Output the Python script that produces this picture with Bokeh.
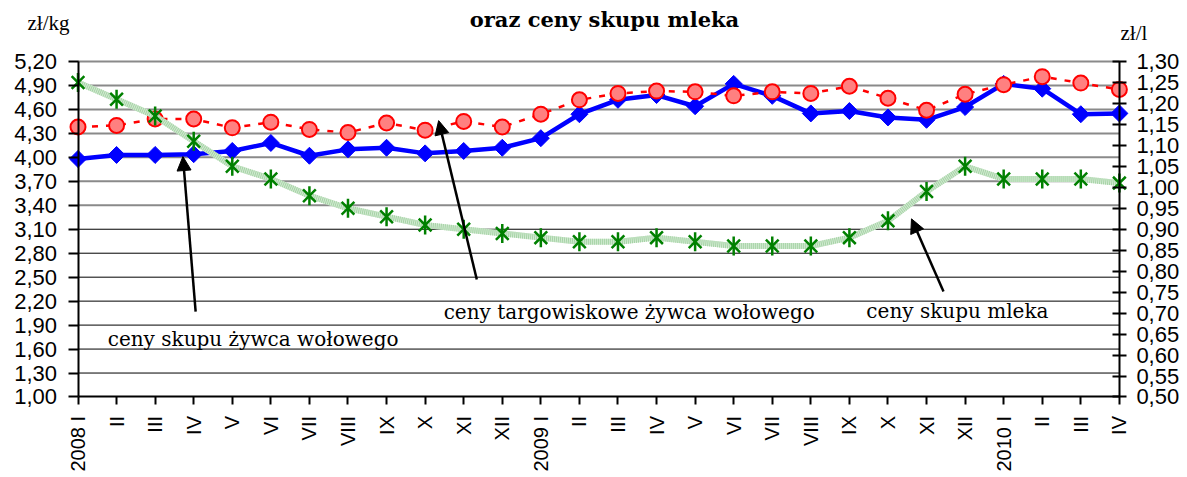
import math
from bokeh.plotting import figure
from bokeh.models import (Range1d, LinearAxis, FixedTicker, CustomJSTickFormatter,
                          Label, Arrow, NormalHead)
from bokeh.embed import file_html
from bokeh.resources import INLINE

# ---------------- data ----------------
months = ["2008 I", "II", "III", "IV", "V", "VI", "VII", "VIII", "IX", "X", "XI", "XII",
          "2009 I", "II", "III", "IV", "V", "VI", "VII", "VIII", "IX", "X", "XI", "XII",
          "2010 I", "II", "III", "IV"]

# ceny skupu żywca wołowego (zł/kg, left axis)
beef_purchase = [3.98, 4.03, 4.03, 4.04, 4.08, 4.18, 4.02, 4.10, 4.12, 4.05, 4.08, 4.12,
                 4.24, 4.54, 4.72, 4.78, 4.64, 4.92, 4.77, 4.55, 4.58, 4.50, 4.47, 4.63,
                 4.92, 4.86, 4.54, 4.55]

# ceny targowiskowe żywca wołowego (zł/kg, left axis)
beef_market = [4.38, 4.40, 4.48, 4.48, 4.37, 4.44, 4.35, 4.31, 4.43, 4.34, 4.45, 4.38,
               4.54, 4.72, 4.80, 4.83, 4.82, 4.77, 4.82, 4.80, 4.89, 4.74, 4.59, 4.79,
               4.91, 5.01, 4.93, 4.85]

# ceny skupu mleka (zł/l, right axis)
milk = [1.25, 1.21, 1.17, 1.11, 1.05, 1.02, 0.98, 0.95, 0.93, 0.91, 0.90, 0.89,
        0.88, 0.87, 0.87, 0.88, 0.87, 0.86, 0.86, 0.86, 0.88, 0.92, 0.99, 1.05,
        1.02, 1.02, 1.02, 1.01]

left_ticks = [1.00, 1.30, 1.60, 1.90, 2.20, 2.50, 2.80, 3.10, 3.40, 3.70, 4.00, 4.30,
              4.60, 4.90, 5.20]
right_ticks = [0.50, 0.55, 0.60, 0.65, 0.70, 0.75, 0.80, 0.85, 0.90, 0.95, 1.00, 1.05,
               1.10, 1.15, 1.20, 1.25, 1.30]

title_text = "oraz ceny skupu mleka"
left_unit = "zł/kg"
right_unit = "zł/l"
label_purchase = "ceny skupu żywca wołowego"
label_market = "ceny targowiskowe żywca wołowego"
label_milk = "ceny skupu mleka"

x = list(range(len(months)))

# ---------------- layout constants (screen geometry) ----------------
W, H = 1187, 477
AXIS_LEFT_PX = 77.5         # screen x of the left value axis
AXIS_TOP_PX = 61.0          # screen y of the top value (5,20)
CAT_PX = 38.57              # px per category step
VAL_PX = 79.88              # px per 1 zł/kg on the left scale

x_lo = -AXIS_LEFT_PX / CAT_PX
x_hi = x_lo + W / CAT_PX
y_hi = left_ticks[-1] + AXIS_TOP_PX / VAL_PX
y_lo = y_hi - H / VAL_PX
r_scale = (right_ticks[-1] - right_ticks[0]) / (left_ticks[-1] - left_ticks[0])
r_lo = right_ticks[0] + (y_lo - left_ticks[0]) * r_scale
r_hi = right_ticks[0] + (y_hi - left_ticks[0]) * r_scale

p = figure(width=W, height=H, output_backend="svg", toolbar_location=None,
           x_range=Range1d(x_lo, x_hi), y_range=Range1d(y_lo, y_hi),
           min_border_left=0, min_border_right=0, min_border_top=0,
           min_border_bottom=0)
p.title.visible = False
p.outline_line_color = None
p.background_fill_color = "white"
p.border_fill_color = "white"
p.xgrid.visible = False
p.ygrid.visible = False
p.extra_y_ranges = {"milk": Range1d(r_lo, r_hi)}

fmt = CustomJSTickFormatter(code="return tick.toFixed(2).replace('.', ',');")
TICK_FONT = "Liberation Sans"

# x axis (fixed at the lowest value)
xa = p.xaxis[0]
xa.fixed_location = left_ticks[0]
xa.ticker = FixedTicker(ticks=x)
xa.bounds = (x[0], x[-1])
xa.major_label_overrides = {i: m for i, m in enumerate(months)}
xa.major_label_orientation = math.pi / 2
xa.major_label_text_font = TICK_FONT
xa.major_label_text_font_size = "20px"
xa.major_label_text_color = "black"
xa.major_label_standoff = 11
xa.major_tick_in = 0
xa.major_tick_out = 8
xa.major_tick_line_width = 2
xa.minor_tick_line_color = None
xa.axis_line_width = 2
xa.axis_line_color = "black"

# left axis (fixed at first category)
ya = p.yaxis[0]
ya.fixed_location = x[0]
ya.bounds = (left_ticks[0], left_ticks[-1])
ya.ticker = FixedTicker(ticks=left_ticks)
ya.formatter = fmt
ya.major_label_text_font = TICK_FONT
ya.major_label_text_font_size = "22px"
ya.major_label_text_color = "black"
ya.major_label_standoff = 11
ya.major_tick_in = 0
ya.major_tick_out = 10
ya.major_tick_line_width = 2
ya.minor_tick_line_color = None
ya.axis_line_width = 2

# right axis (fixed at last category)
ra = LinearAxis(y_range_name="milk", ticker=FixedTicker(ticks=right_ticks), formatter=fmt)
ra.fixed_location = x[-1]
ra.bounds = (right_ticks[0], right_ticks[-1])
ra.major_label_text_font = TICK_FONT
ra.major_label_text_font_size = "22px"
ra.major_label_text_color = "black"
ra.major_label_standoff = 10
ra.major_tick_in = 7
ra.major_tick_out = 7
ra.major_tick_line_width = 2
ra.minor_tick_line_color = None
ra.axis_line_width = 2
p.add_layout(ra, "right")

# horizontal gridlines between the two value axes
upper = [t for t in left_ticks if t >= 3.4]
lower = [t for t in left_ticks if left_ticks[0] < t < 3.4]
p.segment(x0=[x[0]] * len(upper), x1=[x[-1]] * len(upper), y0=upper, y1=upper,
          line_color="#8a8a8a", line_width=2)
p.segment(x0=[x[0]] * len(lower), x1=[x[-1]] * len(lower), y0=lower, y1=lower,
          line_color="black", line_width=1)

# ---------------- series ----------------
p.line(x, beef_purchase, line_color="#0000FF", line_width=4.5)
p.scatter(x, beef_purchase, marker="square", size=12, angle=math.pi / 4,
          fill_color="#0000FF", line_color="#0000FF", line_width=1)

p.line(x, beef_market, line_color="#FF0000", line_width=2.5, line_dash="6 8")
p.scatter(x, beef_market, marker="circle", size=15, fill_color="#FF8080",
          line_color="#FF0000", line_width=2)

p.line(x, milk, y_range_name="milk", line_color="#d3ead3", line_width=6)
p.line(x, milk, y_range_name="milk", line_color="#a5d3a5", line_width=6, line_dash="1 1")
p.scatter(x, milk, y_range_name="milk", marker="x", size=18,
          line_color="#008000", line_width=2.5)
p.scatter(x, milk, y_range_name="milk", marker="dash", angle=math.pi / 2, size=19,
          line_color="#008000", line_width=2.5)

# ---------------- annotations ----------------
def arrow(xs, ys, xe, ye):
    p.add_layout(Arrow(end=NormalHead(size=14, fill_color="black", line_color="black"),
                       x_start=xs, y_start=ys, x_end=xe, y_end=ye,
                       line_width=2.5, line_color="black"))

arrow(3.05, 2.07, 2.72, 4.01)
arrow(10.34, 2.47, 9.35, 4.46)
arrow(22.44, 2.32, 21.61, 3.23)

def label(xv, yv, text, font, size, style="normal", align="left"):
    p.add_layout(Label(x=xv, y=yv, text=text, text_font=font, text_font_size=size,
                       text_font_style=style, text_color="black", text_align=align,
                       text_baseline="middle"))

label(0.77, 1.73, label_purchase, "DejaVu Serif", "20px")
label(9.48, 2.06, label_market, "DejaVu Serif", "20px")
label(20.44, 2.08, label_milk, "DejaVu Serif", "20px")
label(13.65, 5.726, title_text, "DejaVu Serif", "21px", style="bold", align="center")
label(-1.31, 5.688, left_unit, "Liberation Serif", "21px")
label(27.03, 5.563, right_unit, "Liberation Serif", "21px")

open("out.html", "w").write(file_html(p, INLINE))
